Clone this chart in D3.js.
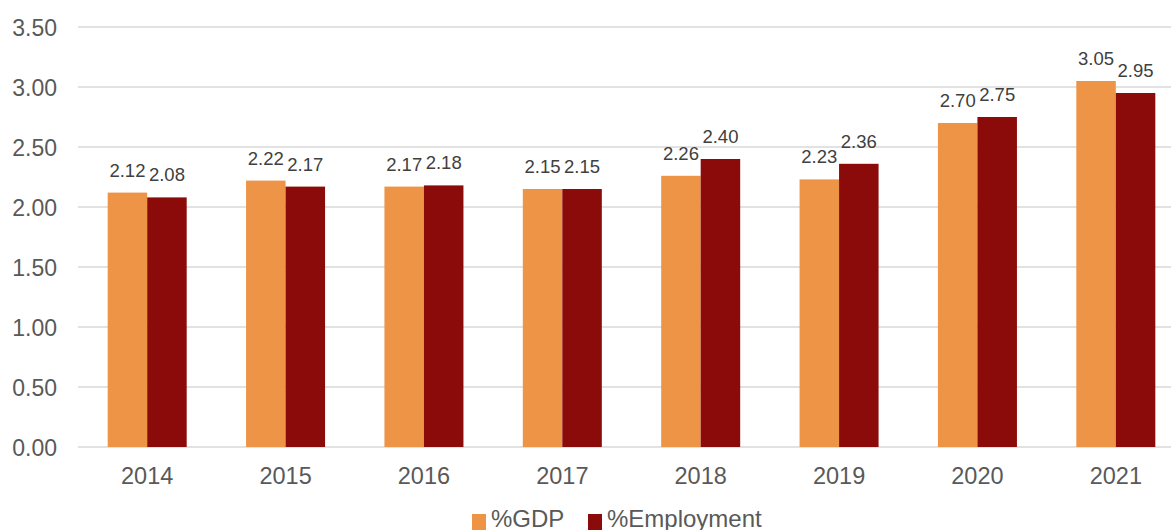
<!DOCTYPE html>
<html>
<head>
<meta charset="utf-8">
<script src="https://cdn.jsdelivr.net/npm/d3@7"></script>
<style>
  body { margin: 0; background: #fff; }
  svg { display: block; font-family: "Liberation Sans", Arial, sans-serif; }
</style>
</head>
<body>
<svg width="1171" height="530"></svg>
<script>
var years = ["2014", "2015", "2016", "2017", "2018", "2019", "2020", "2021"];
var gdp = [2.12, 2.22, 2.17, 2.15, 2.26, 2.23, 2.70, 3.05];
var employment = [2.08, 2.17, 2.18, 2.15, 2.40, 2.36, 2.75, 2.95];
var seriesNames = ["%GDP", "%Employment"];
var yTicks = [0, 0.5, 1, 1.5, 2, 2.5, 3, 3.5];

function main() {
    var svg = d3.select("svg"),
        left = 78,
        right = 1185,
        top = 27,
        bottom = 447;

    var color = d3.scaleOrdinal(seriesNames, ["#ed9447", "#8b0a0a"]);

    var x = d3.scaleBand().domain(years).range([left, right]).paddingInner(0).paddingOuter(0);
    var inner = d3.scaleBand().domain(seriesNames).range([x.bandwidth() / 2 - 39.5, x.bandwidth() / 2 + 39.5]);
    var y = d3.scaleLinear().domain([0, 3.5]).range([bottom, top]);

    var rows = years.map(function(yr, i) {
        return { year: yr, values: [
            { key: "%GDP", value: gdp[i] },
            { key: "%Employment", value: employment[i] }
        ] };
    });

    // grid
    svg.append("g")
       .selectAll("line")
       .data(yTicks)
       .enter().append("line")
       .attr("x1", left)
       .attr("x2", 1171)
       .attr("y1", function(d) { return y(d); })
       .attr("y2", function(d) { return y(d); })
       .attr("stroke", "#d9d9d9")
       .attr("stroke-width", 1.5);

    // y labels
    var yAxis = d3.axisLeft(y).tickValues(yTicks).tickFormat(d3.format(".2f")).tickSize(0).tickPadding(21);
    var ya = svg.append("g").attr("transform", "translate(" + left + ",0)").call(yAxis);
    ya.select(".domain").remove();
    ya.selectAll("text").attr("fill", "#595959").style("font-size", "23px").attr("dy", "0.36em");

    // x labels
    var xAxis = d3.axisBottom(x).tickSize(0).tickPadding(20);
    var xa = svg.append("g").attr("transform", "translate(0," + bottom + ")").call(xAxis);
    xa.select(".domain").remove();
    xa.selectAll("text").attr("fill", "#595959").style("font-size", "23.5px").attr("dy", "0.71em");

    var grp = svg.append("g").selectAll("g")
       .data(rows)
       .enter().append("g")
       .attr("transform", function(d) { return "translate(" + x(d.year) + ",0)"; });

    grp.selectAll("rect")
       .data(function(d) { return d.values; })
       .enter().append("rect")
       .attr("x", function(d) { return inner(d.key); })
       .attr("width", inner.bandwidth())
       .attr("y", function(d) { return y(d.value); })
       .attr("height", function(d) { return y(0) - y(d.value); })
       .attr("fill", function(d) { return color(d.key); });

    grp.selectAll("text")
       .data(function(d) { return d.values; })
       .enter().append("text")
       .attr("x", function(d) { return inner(d.key) + inner.bandwidth() / 2; })
       .attr("y", function(d) { return y(d.value) - 16; })
       .attr("text-anchor", "middle")
       .attr("fill", "#404040")
       .style("font-size", "18.5px")
       .text(function(d) { return d3.format(".2f")(d.value); });

    // legend
    var legendX = [472, 588];
    var lg = svg.append("g").selectAll("g")
       .data(seriesNames)
       .enter().append("g")
       .attr("transform", function(d, i) { return "translate(" + legendX[i] + ",514)"; });
    lg.append("rect")
      .attr("width", 14)
      .attr("height", 16)
      .attr("fill", function(d) { return color(d); });
    lg.append("text")
      .attr("x", 19)
      .attr("y", 13)
      .attr("fill", "#595959")
      .style("font-size", "24px")
      .text(function(d) { return d; });
}
main();
</script>
</body>
</html>
